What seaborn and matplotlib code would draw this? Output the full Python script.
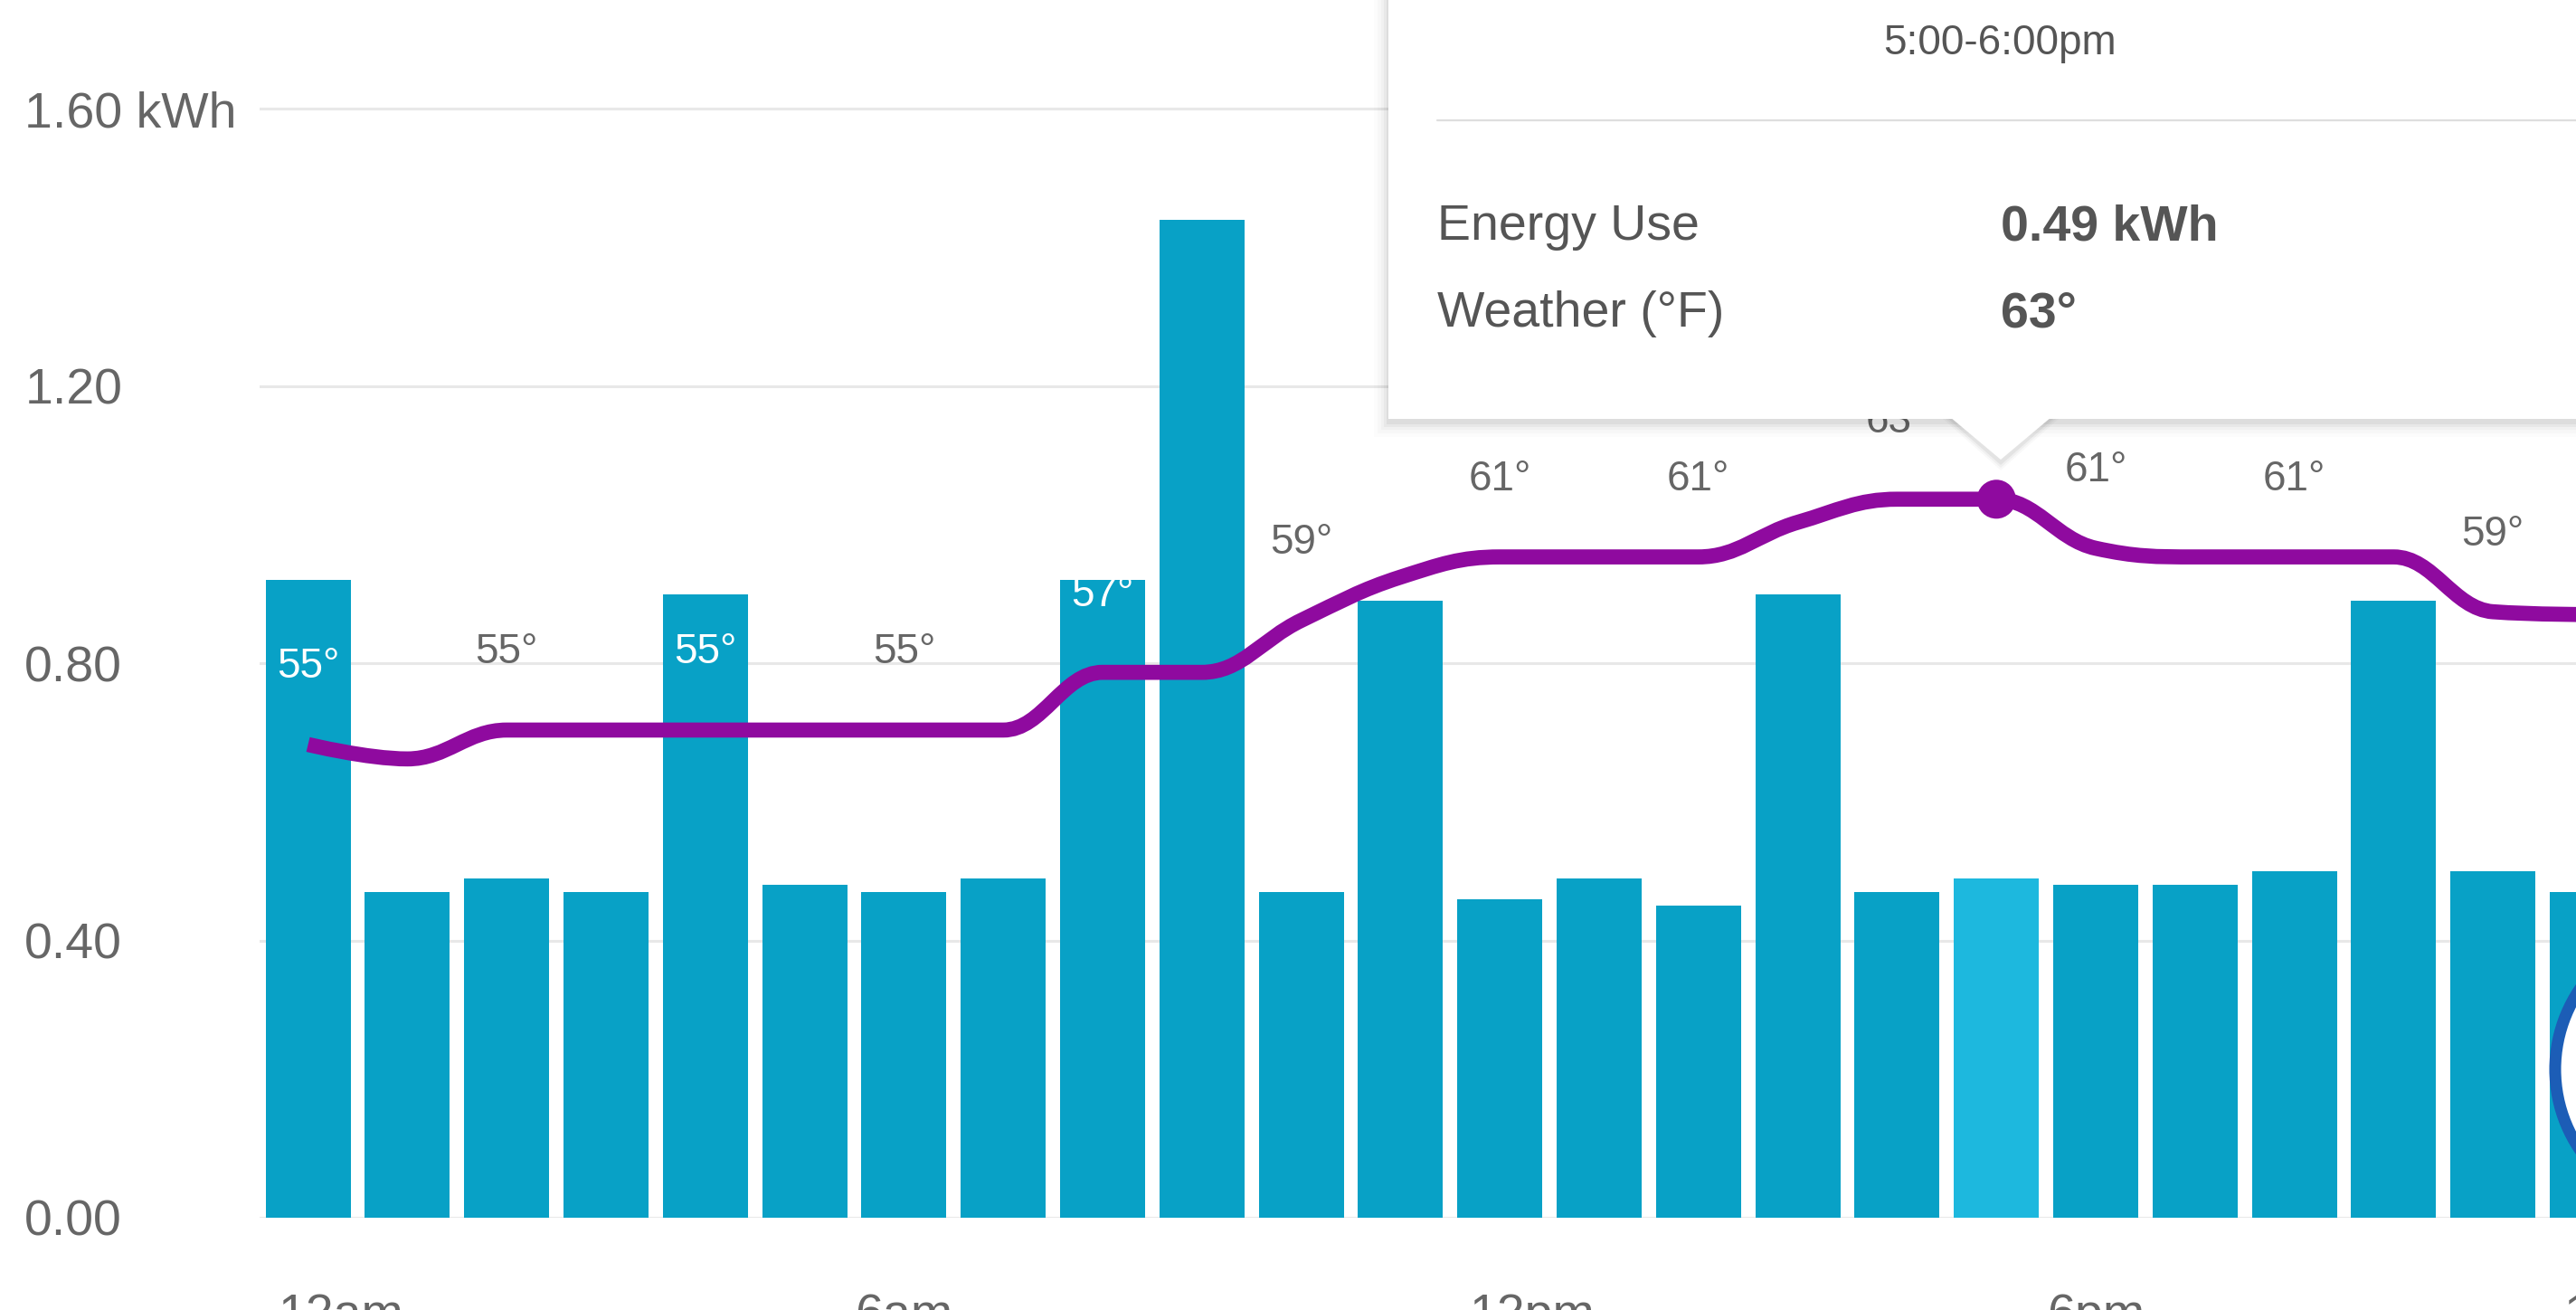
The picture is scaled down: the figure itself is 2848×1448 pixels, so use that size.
import numpy as np
import pandas as pd
import matplotlib
matplotlib.use("Agg")
import matplotlib.pyplot as plt
import seaborn as sns
from matplotlib.patches import Rectangle, Polygon, Ellipse, PathPatch
from matplotlib.path import Path
from matplotlib.lines import Line2D

# ---------------- data ----------------
hours = list(range(24))
kwh = [0.92, 0.47, 0.49, 0.47, 0.90, 0.48, 0.47, 0.49, 0.92, 1.44, 0.47, 0.89,
       0.46, 0.49, 0.45, 0.90, 0.47, 0.49, 0.48, 0.48, 0.50, 0.89, 0.50, 0.47]
temps_f = [54.5, 54.0, 55, 55, 55, 55, 55, 55, 57, 57, 58.8, 60.3,
           61, 61, 61, 62.2, 63, 63, 61.3, 61, 61, 61, 59.1, 59]
label_hours = list(range(0, 24, 2))
tick_hours = [0, 6, 12, 18, 23]
tick_labels = ["12am", "6am", "12pm", "6pm", "11pm"]
y_ticks = [0.0, 0.4, 0.8, 1.2, 1.6]
y_tick_labels = ["0.00", "0.40", "0.80", "1.20", "1.60 kWh"]
selected_hour = 17
tooltip_period = "5:00-6:00pm"
tooltip_names = ["Energy Use", "Weather (°F)"]
tooltip_values = ["0.49 kWh", "63°"]

# ---------------- style ----------------
W, H, DPI = 2848, 1448, 100
BAR = "#08a1c6"
BAR_HI = "#1db8de"
PURPLE = "#8f0a9f"
GREY = "#666666"
AX_LEFT_PX, AX_RIGHT_PX = 287, 3050          # axes runs past the right edge (cropped view)
X0, UNIT_PX, CENTER0_PX = -0.488, 109.8, 340.6
XLIM = (X0, (AX_RIGHT_PX - CENTER0_PX) / UNIT_PX)

sns.set_theme(style="white")
plt.rcParams["font.family"] = ["Liberation Sans", "DejaVu Sans"]

fig = plt.figure(figsize=(W / DPI, H / DPI), dpi=DPI)
fig.patch.set_facecolor("white")
ax = fig.add_axes([AX_LEFT_PX / W, 102 / H, (AX_RIGHT_PX - AX_LEFT_PX) / W, 1346 / H])
ax.set_facecolor("white")

df = pd.DataFrame({"hour": hours, "kwh": kwh})
palette = {h: (BAR_HI if h == selected_hour else BAR) for h in hours}
sns.barplot(data=df, x="hour", y="kwh", hue="hour", palette=palette,
            native_scale=True, width=0.857, saturation=1, legend=False,
            linewidth=0, ax=ax, zorder=2)

ax.set_ylim(0, 1.757)
ax.set_yticks(y_ticks)
ax.set_yticklabels(y_tick_labels, fontsize=40, color=GREY, ha="left")
ax.tick_params(axis="y", length=0, pad=187)
ax.yaxis.grid(True, color="#e8e8e8", linewidth=2.2)
ax.xaxis.grid(False)
ax.set_axisbelow(True)
ax.set_xlabel("")
ax.set_ylabel("")
for s in ax.spines.values():
    s.set_visible(False)

# temperature line on hidden secondary axis (spline rendering of hourly data)
ax2 = ax.twinx()
ax2.set_ylim(38.1, 80.3)


def spline_path(xs, ys, smoothing=1.5):
    n = len(xs)
    lc = [(x, y) for x, y in zip(xs, ys)]
    rc = [(x, y) for x, y in zip(xs, ys)]
    d = smoothing + 1
    for i in range(1, n - 1):
        px, py = xs[i], ys[i]
        lx, ly = xs[i - 1], ys[i - 1]
        nx, ny = xs[i + 1], ys[i + 1]
        lcx = (smoothing * px + lx) / d
        lcy = (smoothing * py + ly) / d
        rcx = (smoothing * px + nx) / d
        rcy = (smoothing * py + ny) / d
        corr = ((rcy - lcy) * (rcx - px)) / (rcx - lcx) + py - rcy
        lcy += corr
        rcy += corr
        if lcy > max(ly, py):
            lcy = max(ly, py)
            rcy = 2 * py - lcy
        elif lcy < min(ly, py):
            lcy = min(ly, py)
            rcy = 2 * py - lcy
        if rcy > max(py, ny):
            rcy = max(py, ny)
            lcy = 2 * py - rcy
        elif rcy < min(py, ny):
            rcy = min(py, ny)
            lcy = 2 * py - rcy
        lc[i] = (lcx, lcy)
        rc[i] = (rcx, rcy)
    verts = [(xs[0], ys[0])]
    codes = [Path.MOVETO]
    for i in range(1, n):
        verts += [rc[i - 1], lc[i], (xs[i], ys[i])]
        codes += [Path.CURVE4] * 3
    return Path(verts, codes)


ax2.add_patch(PathPatch(spline_path(hours, temps_f), facecolor="none",
                        edgecolor=PURPLE, linewidth=12, capstyle="butt",
                        joinstyle="round", zorder=3))

for h in label_hours:
    t = temps_f[h]
    col = "white" if kwh[h] > 0.8 else GREY
    ax2.annotate(f"{int(t + 0.5)}°", xy=(h, t), xytext=(0, 53),
                 textcoords="offset points", ha="center", va="baseline",
                 fontsize=33, color=col, zorder=4)

sns.scatterplot(x=[selected_hour], y=[temps_f[selected_hour]], ax=ax2,
                s=31 ** 2, color=PURPLE, edgecolor="none", zorder=5,
                legend=False)
ax2.set_ylim(38.1, 80.3)
ax2.set_yticks([])
ax2.set_ylabel("")
for s in ax2.spines.values():
    s.set_visible(False)

# x axis after all plotting (scatter autoscale)
ax.set_xlim(*XLIM)
shift = [0.33, 0.0, 0.33, 0.0, 0.33]
ax.set_xticks([h + s for h, s in zip(tick_hours, shift)])
ax.set_xticklabels(tick_labels, fontsize=40, color=GREY)
ax.tick_params(axis="x", length=0, pad=60)
ax2.set_xlim(*XLIM)

# ---------------- tooltip ----------------
def fx(px):
    return px / W


def fy(py):
    return 1 - py / H


tx0, tbot = 1535, 463
for off, a in [(16, 0.012), (12, 0.018), (8, 0.025), (5, 0.035), (2, 0.045)]:
    fig.patches.append(Rectangle((fx(tx0 - off), fy(tbot + off + 4)),
                                 1.2, 1.2, transform=fig.transFigure,
                                 facecolor="black", alpha=a, edgecolor="none",
                                 zorder=6))
notch_x = 2212
for off, a in [(8, 0.025), (5, 0.035), (2, 0.05)]:
    fig.patches.append(Polygon([(fx(notch_x - 56 - off), fy(tbot)),
                                (fx(notch_x), fy(512 + off)),
                                (fx(notch_x + 56 + off), fy(tbot))],
                               closed=True, transform=fig.transFigure,
                               facecolor="black", alpha=a, edgecolor="none",
                               zorder=6))
fig.patches.append(Rectangle((fx(tx0), fy(tbot)), 1.2, 1.2,
                             transform=fig.transFigure, facecolor="white",
                             edgecolor="none", zorder=7))
fig.patches.append(Polygon([(fx(notch_x - 56), fy(tbot - 2)),
                            (fx(notch_x), fy(508)),
                            (fx(notch_x + 56), fy(tbot - 2))],
                           closed=True, transform=fig.transFigure,
                           facecolor="white", edgecolor="none", zorder=7))
fig.lines.append(Line2D([fx(1589), 1.0], [fy(133), fy(133)],
                        transform=fig.transFigure, color="#dedede",
                        linewidth=1.6, zorder=8))
fig.text(fx(2211), fy(60), tooltip_period, ha="center", va="baseline",
         fontsize=33, color="#555555", zorder=9)
for i, (name, val) in enumerate(zip(tooltip_names, tooltip_values)):
    yb = fy(265 + i * 96)
    fig.text(fx(1589), yb, name, ha="left", va="baseline", fontsize=40,
             color="#555555", zorder=9)
    fig.text(fx(2212), yb, val, ha="left", va="baseline", fontsize=40,
             color="#555555", weight="bold", zorder=9)

# partially visible round widget button at bottom right
r = 158
fig.patches.append(Ellipse((fx(2983), fy(1182)), 2 * r / W, 2 * r / H,
                           transform=fig.transFigure, facecolor="white",
                           edgecolor="#1c5db6", linewidth=9.4, zorder=6))

fig.savefig("out.png", dpi=DPI, facecolor="white")
